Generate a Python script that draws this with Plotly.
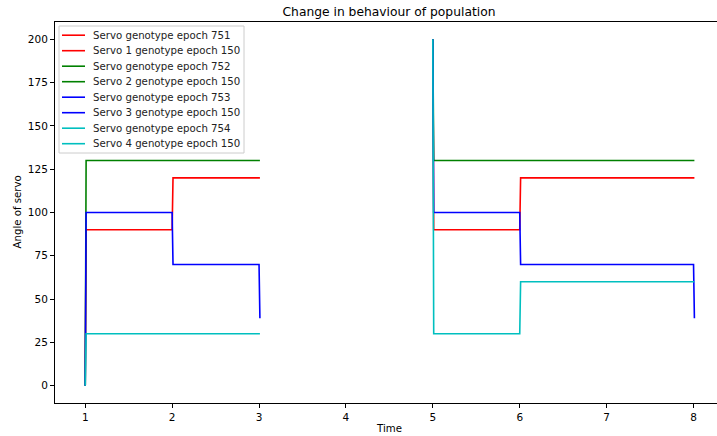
import plotly.graph_objects as go

# ---- data ----
time_a = [1.0, 1.01, 2.0, 2.01, 3.0, 3.01]
time_b = [5.0, 5.01, 6.0, 6.01, 8.0, 8.01]

servo1_751 = [0, 90, 90, 120, 120, 120]
servo2_752 = [0, 130, 130, 130, 130, 130]
servo3_753 = [0, 100, 100, 70, 70, 39]
servo4_754 = [0, 30, 30, 30, 30, 30]

servo1_150 = [200, 90, 90, 120, 120, 120]
servo2_150 = [200, 130, 130, 130, 130, 130]
servo3_150 = [200, 100, 100, 70, 70, 39]
servo4_150 = [200, 30, 30, 60, 60, 60]

x_ticks = [1, 2, 3, 4, 5, 6, 7, 8]
y_ticks = [0, 25, 50, 75, 100, 125, 150, 175, 200]

series = [
    ("Servo genotype epoch 751", time_a, servo1_751, "#ff0000"),
    ("Servo 1 genotype epoch 150", time_b, servo1_150, "#ff0000"),
    ("Servo genotype epoch 752", time_a, servo2_752, "#008000"),
    ("Servo 2 genotype epoch 150", time_b, servo2_150, "#008000"),
    ("Servo genotype epoch 753", time_a, servo3_753, "#0000ff"),
    ("Servo 3 genotype epoch 150", time_b, servo3_150, "#0000ff"),
    ("Servo genotype epoch 754", time_a, servo4_754, "#00bfbf"),
    ("Servo 4 genotype epoch 150", time_b, servo4_150, "#00bfbf"),
]

font = "DejaVu Sans"
L, T, B, W, H = 55, 22, 33, 717, 436
pw = W - L
ph = H - T - B


def px_x(p):
    return (p - L) / pw


def px_y(p):
    return (H - B - p) / ph


fig = go.Figure()
for name, xs, ys, col in series:
    fig.add_trace(go.Scatter(x=xs, y=ys, mode="lines", name=name, showlegend=False,
                             line=dict(color=col, width=1.6)))

# matplotlib-style legend box (compact row pitch)
shapes = [dict(type="rect", xref="paper", yref="paper", layer="above",
               x0=px_x(59), x1=px_x(244), y0=px_y(153), y1=px_y(26),
               line=dict(color="#cccccc", width=1), fillcolor="rgba(255,255,255,0.8)")]
annotations = []
row0, pitch = 35.2, 15.5
for i, (name, xs, ys, col) in enumerate(series):
    yy = row0 + i * pitch
    shapes.append(dict(type="line", xref="paper", yref="paper", layer="above",
                       x0=px_x(62), x1=px_x(85), y0=px_y(yy), y1=px_y(yy),
                       line=dict(color=col, width=1.6)))
    annotations.append(dict(text=name, xref="paper", yref="paper", x=px_x(91), y=px_y(yy),
                            xanchor="left", yanchor="middle", showarrow=False,
                            font=dict(size=10.2, family=font, color="#222")))

annotations += [
    dict(text="Time", xref="paper", yref="paper", x=px_x(389),
         y=px_y(428), xanchor="center", yanchor="middle",
         showarrow=False, font=dict(size=10.2, family=font, color="#000")),
    dict(text="Angle of servo", xref="paper", yref="paper", x=px_x(17),
         y=0.5, xanchor="center", yanchor="middle", textangle=-90,
         showarrow=False, font=dict(size=10.2, family=font, color="#000")),
]

fig.update_layout(
    width=W, height=H,
    margin=dict(l=L, r=0, t=T, b=B, autoexpand=False),
    paper_bgcolor="white", plot_bgcolor="white",
    font=dict(family=font, size=10, color="#000000"),
    title=dict(text="Change in behaviour of population", font=dict(size=12.3, family=font, color="#000"),
               xref="container", x=389 / W, xanchor="center",
               yref="container", y=1 - 11.5 / H, yanchor="middle"),
    showlegend=False,
    xaxis=dict(range=[0.652, 8.27], tickvals=x_ticks, ticks="outside", ticklen=4,
               tickcolor="#000", showline=True, linecolor="#000", linewidth=1,
               mirror=True, showgrid=False, zeroline=False,
               tickfont=dict(size=10.5, family=font, color="#000")),
    yaxis=dict(range=[-10, 210], tickvals=y_ticks, ticks="outside", ticklen=4,
               tickcolor="#000", showline=True, linecolor="#000", linewidth=1,
               showgrid=False, zeroline=False,
               tickfont=dict(size=10.5, family=font, color="#000")),
    shapes=shapes,
    annotations=annotations,
)

fig.write_html("out.html", config={"displayModeBar": False},
               post_script="document.body.style.margin='0';document.body.style.overflow='hidden';")
